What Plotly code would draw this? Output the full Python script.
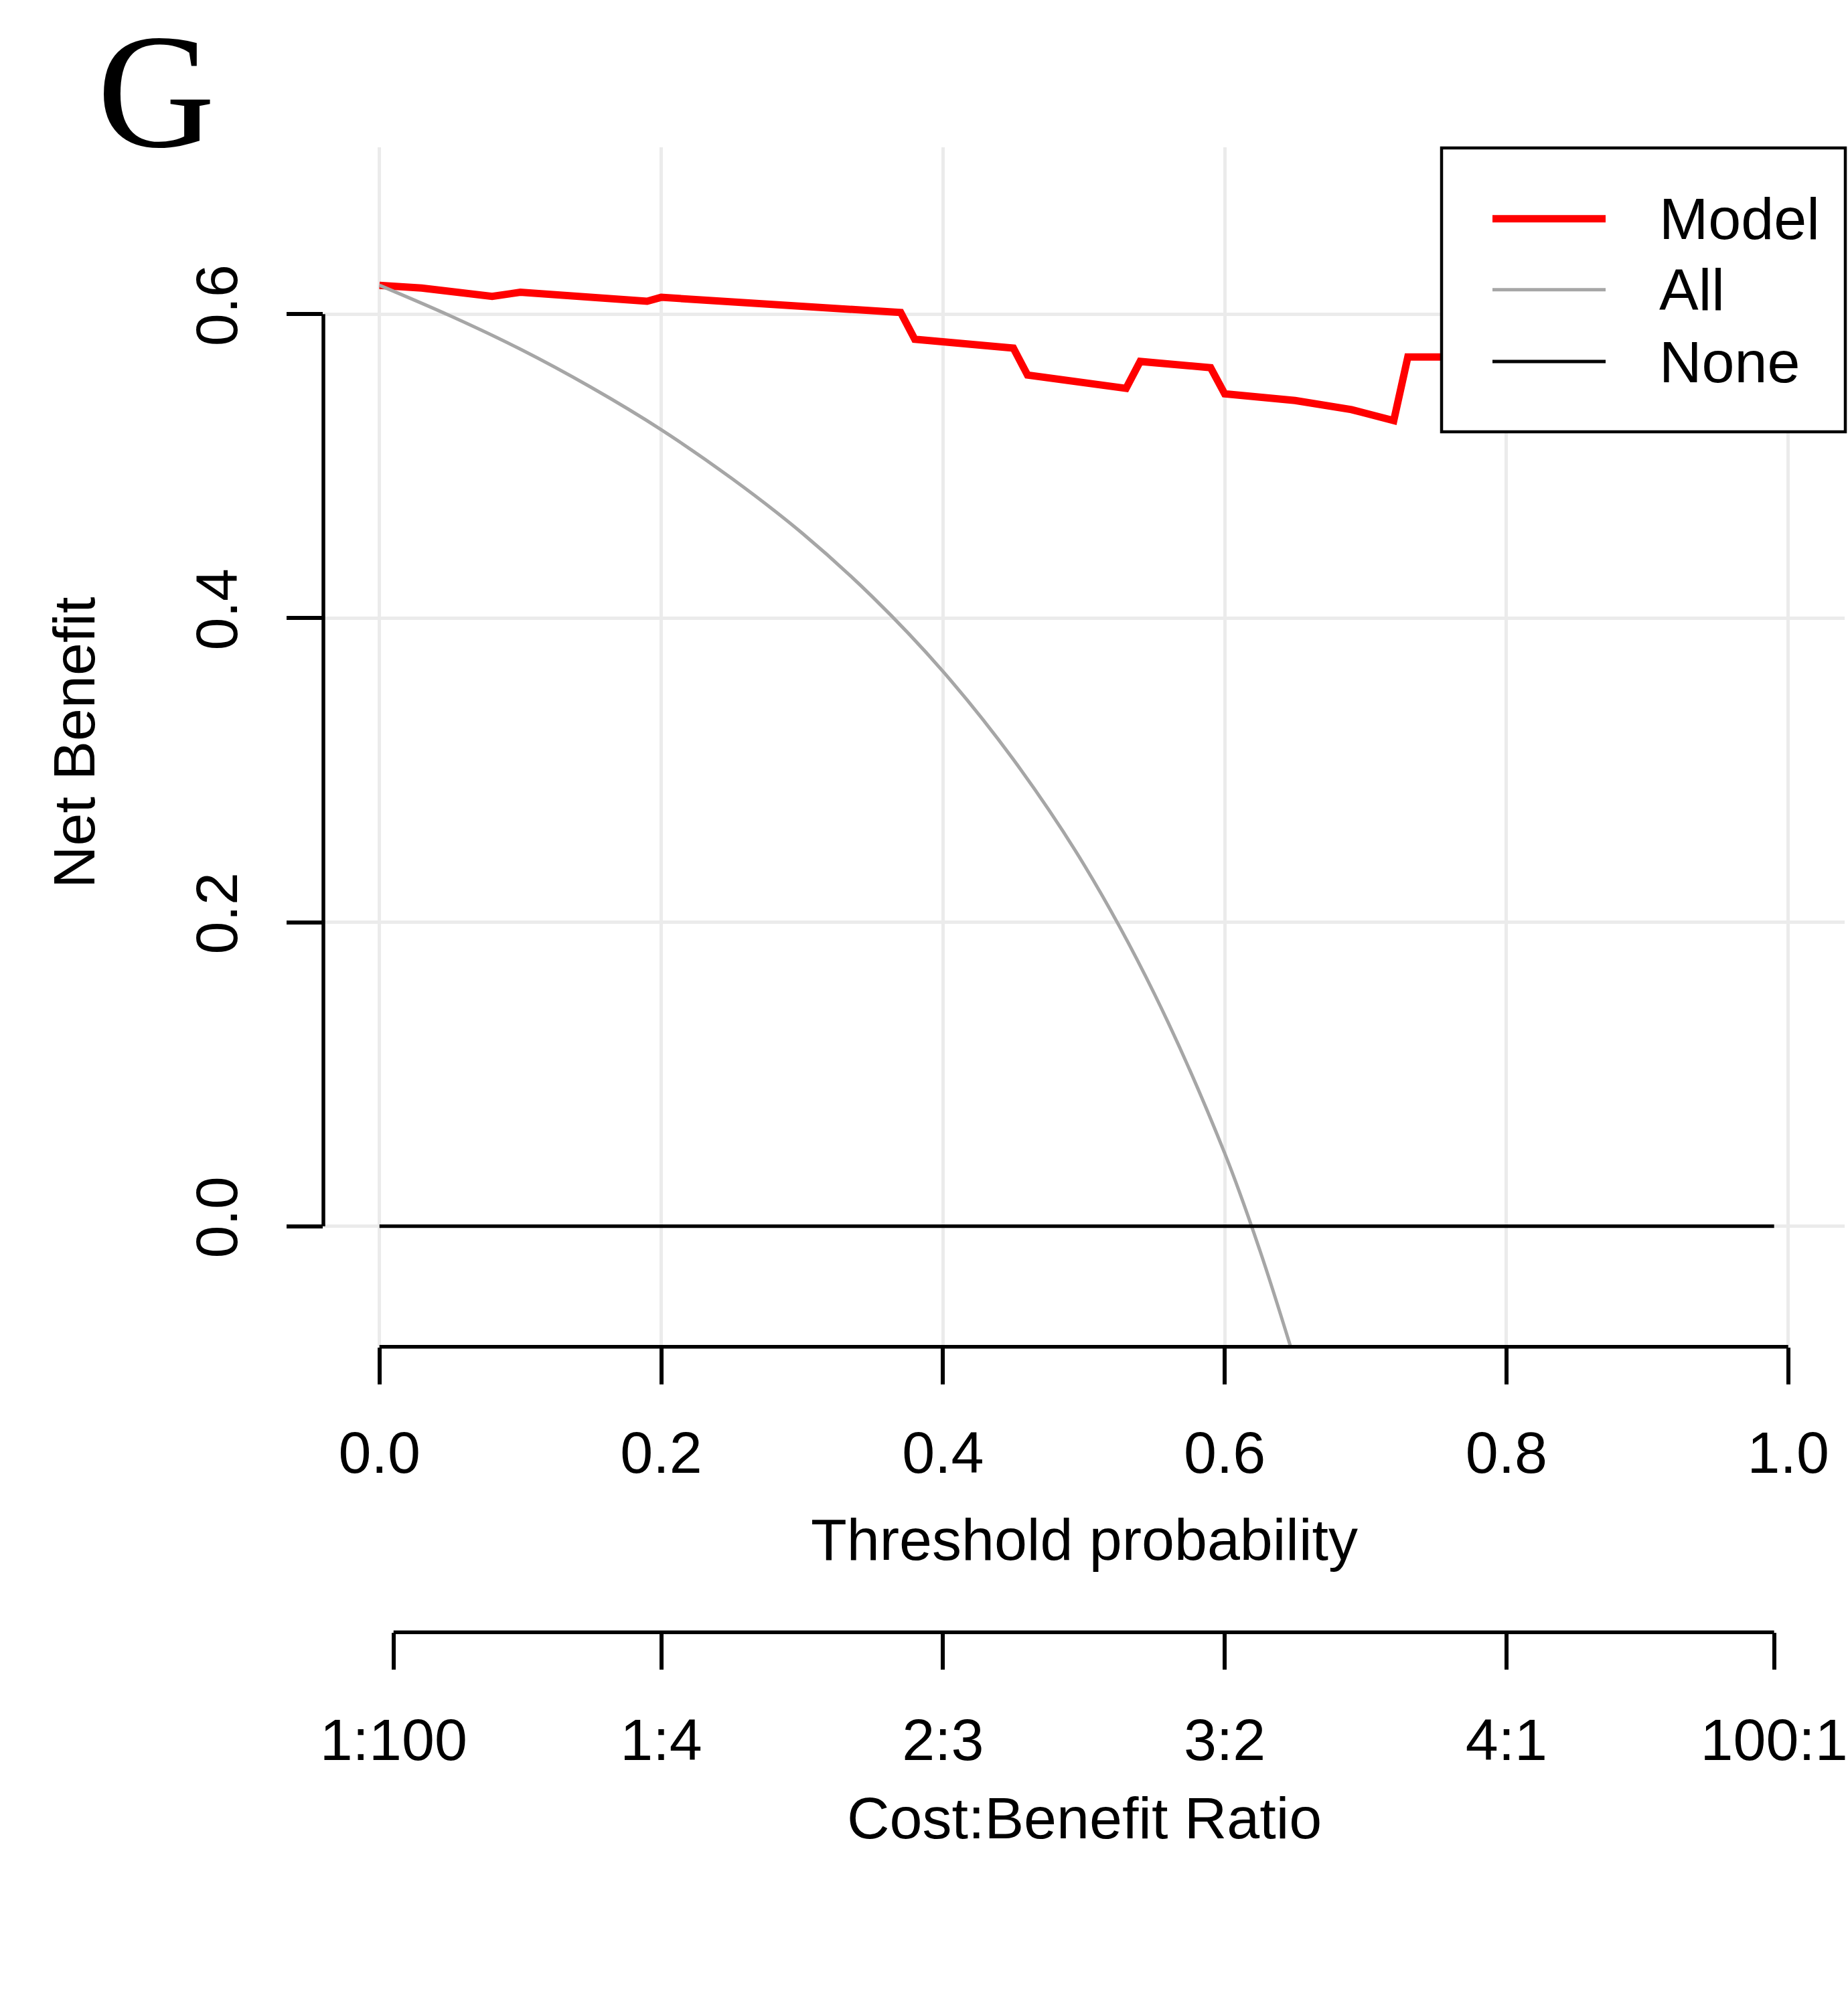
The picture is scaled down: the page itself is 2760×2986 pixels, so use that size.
import plotly.graph_objects as go

# ---------------- data ----------------
model_threshold = [0.00, 0.01, 0.02, 0.03, 0.08, 0.09, 0.10, 0.19, 0.20, 0.37, 0.38,
                   0.45, 0.46, 0.53, 0.54, 0.59, 0.60, 0.65, 0.69, 0.72, 0.73, 0.76]
model_net_benefit = [0.6190, 0.6185, 0.6178, 0.6172, 0.6117, 0.6132, 0.6144, 0.6085, 0.6111,
                     0.6011, 0.5835, 0.5777, 0.5600, 0.5512, 0.5689, 0.5648, 0.5476, 0.5432,
                     0.5372, 0.5300, 0.5718, 0.5718]

all_threshold = [0.00, 0.05, 0.10, 0.15, 0.20, 0.25, 0.30, 0.35, 0.40, 0.45, 0.50,
                 0.55, 0.60, 0.625, 0.65]
all_net_benefit = [0.619, 0.599, 0.577, 0.552, 0.524, 0.492, 0.456, 0.414, 0.365, 0.307,
                   0.238, 0.153, 0.048, -0.016, -0.089]

none_threshold = [0.00, 0.99]
none_net_benefit = [0.0, 0.0]

x_ticks = [0.0, 0.2, 0.4, 0.6, 0.8, 1.0]
y_ticks = [0.0, 0.2, 0.4, 0.6]
cb_ticks = [0.01, 0.2, 0.4, 0.6, 0.8, 0.99]
cb_labels = ["1:100", "1:4", "2:3", "3:2", "4:1", "100:1"]

series_names = ["Model", "All", "None"]
series_colors = ["#FF0000", "#A6A6A6", "#000000"]
series_widths = [11, 5, 5.2]

panel_letter = "G"
x_title = "Threshold probability"
y_title = "Net Benefit"
cb_title = "Cost:Benefit Ratio"

# ---------------- layout geometry (page pixels; body margin removed) ----------------
W, H = 2760, 2986
X0_PX, X_UNIT = 566.7, 2104.0    # page x of threshold 0 and px per unit
ML, MR, MT, MB = int(round(X0_PX - 0.04 * X_UNIT)), 5, 220, 200
PW, PH = W - ML - MR, H - MT - MB
X_LEFT = (ML - X0_PX) / X_UNIT
X_RIGHT = (W - MR - X0_PX) / X_UNIT
PLOT_BOTTOM = 2011.7
Y_DOMAIN_LOW = (H - MB - PLOT_BOTTOM) / PH
CB_AXIS_Y = 2438.3


def fx(px):
    # page pixel -> paper fraction
    return (px - ML) / PW


def fy(py):
    return (H - MB - py) / PH


FONT = "Liberation Sans, Arial, sans-serif"
FS = 88
AXW = 5.5

fig = go.Figure()

fig.add_trace(go.Scatter(x=model_threshold, y=model_net_benefit, mode="lines",
                         name=series_names[0],
                         line=dict(color=series_colors[0], width=series_widths[0]),
                         showlegend=False))
fig.add_trace(go.Scatter(x=all_threshold, y=all_net_benefit, mode="lines",
                         name=series_names[1],
                         line=dict(color=series_colors[1], width=series_widths[1], shape="spline"),
                         showlegend=False))
fig.add_trace(go.Scatter(x=none_threshold, y=none_net_benefit, mode="lines",
                         name=series_names[2], xaxis="x2",
                         line=dict(color=series_colors[2], width=series_widths[2]),
                         showlegend=False))

grid_col = "#EBEBEB"
xr = [X_LEFT, X_RIGHT]
fig.update_layout(
    width=W, height=H,
    margin=dict(l=ML, r=MR, t=MT, b=MB, pad=0, autoexpand=False),
    paper_bgcolor="white", plot_bgcolor="white",
    font=dict(family=FONT, size=FS, color="black"),
    showlegend=False,
    xaxis=dict(range=xr, tickvals=x_ticks, ticktext=[f"{v:.1f}" for v in x_ticks],
               ticks="outside", ticklen=55, tickwidth=AXW, tickcolor="black",
               showline=False, zeroline=False, showgrid=True, gridcolor=grid_col,
               gridwidth=5, anchor="y", ticklabelstandoff=27, ticklabeloverflow="allow",
               automargin=False,
               tickfont=dict(family=FONT, size=FS, color="black")),
    xaxis2=dict(range=xr, overlaying="x", anchor="free", position=fy(CB_AXIS_Y),
                side="bottom", tickvals=cb_ticks, ticktext=cb_labels,
                ticks="outside", ticklen=55, tickwidth=AXW, tickcolor="black",
                showline=False, zeroline=False, showgrid=False, ticklabelstandoff=29,
                ticklabeloverflow="allow", automargin=False,
                tickfont=dict(family=FONT, size=FS, color="black")),
    yaxis=dict(range=[-0.0793, 0.7098], domain=[Y_DOMAIN_LOW, 1],
               tickvals=y_ticks, ticktext=[f"{v:.1f}" for v in y_ticks],
               ticks="outside", ticklen=54, tickwidth=AXW, tickcolor="black",
               tickangle=-90, showline=False, zeroline=False, showgrid=True,
               gridcolor=grid_col, gridwidth=5, ticklabelstandoff=39, automargin=False,
               tickfont=dict(family=FONT, size=FS, color="black")),
)

# axis lines (R style: span first to last tick)
fig.add_shape(type="line", xref="paper", yref="y", x0=0, x1=0,
              y0=min(y_ticks), y1=max(y_ticks), line=dict(color="black", width=AXW))
fig.add_shape(type="line", xref="x", yref="y domain", x0=min(x_ticks), x1=max(x_ticks),
              y0=0, y1=0, line=dict(color="black", width=AXW))
fig.add_shape(type="line", xref="x", yref="paper", x0=min(cb_ticks), x1=max(cb_ticks),
              y0=fy(CB_AXIS_Y), y1=fy(CB_AXIS_Y), line=dict(color="black", width=AXW))

# titles
fig.add_annotation(text=x_title, xref="paper", yref="paper", x=fx(1619), y=fy(2299),
                   xanchor="center", yanchor="middle", showarrow=False,
                   font=dict(family=FONT, size=FS, color="black"))
fig.add_annotation(text=cb_title, xref="paper", yref="paper", x=fx(1619), y=fy(2715),
                   xanchor="center", yanchor="middle", showarrow=False,
                   font=dict(family=FONT, size=FS, color="black"))
fig.add_annotation(text=y_title, xref="paper", yref="paper", x=fx(110), y=fy(1110),
                   xanchor="center", yanchor="middle", showarrow=False, textangle=-90,
                   font=dict(family=FONT, size=FS, color="black"))
# panel letter: text box top at the top edge of the picture
fig.add_annotation(text=panel_letter, xref="paper", yref="paper", x=fx(233), y=fy(0),
                   xanchor="center", yanchor="top", showarrow=False,
                   font=dict(family="Liberation Serif, Times New Roman, serif", size=244,
                             color="black"))

# legend box (drawn manually to match R legend geometry)
fig.add_shape(type="rect", xref="paper", yref="paper", x0=fx(2153), x1=fx(2756),
              y0=fy(645), y1=fy(221), line=dict(color="black", width=4.5),
              fillcolor="white", layer="above")
row_y = [326.7, 432.7, 540.0]
for name, col, w, ry in zip(series_names, series_colors, series_widths, row_y):
    fig.add_shape(type="line", xref="paper", yref="paper", x0=fx(2229), x1=fx(2398),
                  y0=fy(ry), y1=fy(ry), line=dict(color=col, width=w), layer="above")
    fig.add_annotation(text=name, xref="paper", yref="paper", x=fx(2476), y=fy(ry),
                       xanchor="left", yanchor="middle", showarrow=False,
                       font=dict(family=FONT, size=FS, color="black"))

fig.write_html("out.html", config={"displayModeBar": False},
               post_script="document.body.style.margin='0';document.body.style.overflow='hidden';")
